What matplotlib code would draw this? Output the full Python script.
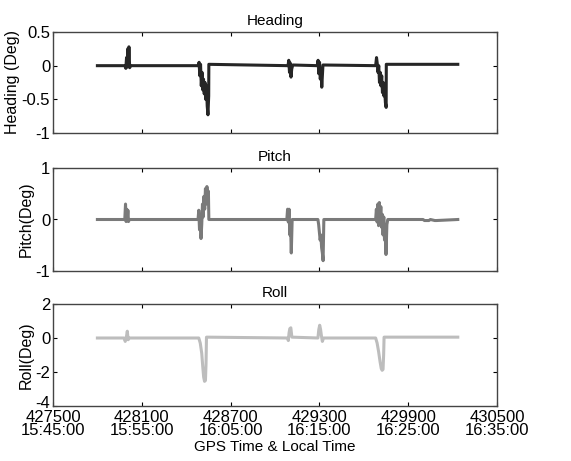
import matplotlib
matplotlib.use('Agg')
import matplotlib.pyplot as plt
import matplotlib.transforms as mtransforms
import numpy as np

plt.rcParams['font.family'] = ['Liberation Sans', 'DejaVu Sans']
plt.rcParams['font.size'] = 11

# heading (deg) vs gps time (s)
head_t = [427800, 427985, 427992, 427997, 428001, 428005, 428009, 428013, 428018, 428024,
          428480, 428487, 428492, 428497, 428502, 428507, 428512, 428517, 428522, 428527,
          428532, 428537, 428542, 428547, 428552, 428553,
          429088, 429093, 429098, 429103, 429108, 429113, 429120,
          429285, 429291, 429296, 429301, 429306, 429311, 429316, 429324,
          429680, 429686, 429691, 429696, 429701, 429706, 429711, 429716, 429721,
          429726, 429731, 429736, 429741, 429746, 429751, 429752, 430235]
head_v = [0.0, 0.0, -0.04, 0.12, -0.02, 0.25, 0.02, 0.28, -0.03, 0.0,
          0.0, 0.05, -0.15, 0.02, -0.3, -0.1, -0.36, -0.2, -0.42, -0.25,
          -0.5, -0.3, -0.6, -0.73, -0.45, 0.02,
          0.0, 0.08, -0.1, 0.04, -0.17, -0.05, 0.01,
          0.0, 0.08, -0.12, 0.05, -0.2, -0.05, -0.32, 0.01,
          0.0, 0.12, 0.03, -0.1, 0.0, -0.25, -0.1, -0.3, -0.15,
          -0.4, -0.25, -0.45, -0.35, -0.55, -0.62, 0.02, 0.02]

# pitch (deg)
pitch_t = [427800, 427985, 427990, 427994, 427998, 428002, 428006, 428010, 428016, 428024,
           428480, 428485, 428490, 428495, 428500, 428505, 428510, 428515, 428520, 428525,
           428530, 428535, 428540, 428545, 428550, 428553,
           429080, 429085, 429090, 429095, 429100, 429105, 429110, 429116,
           429290, 429295, 429300, 429305, 429310, 429315, 429320, 429325, 429330,
           429680, 429685, 429690, 429695, 429700, 429705, 429710, 429715, 429720,
           429725, 429730, 429735, 429740, 429745, 429750, 429756, 429762,
           430000, 430010, 430040, 430050, 430080, 430090, 430235]
pitch_v = [0.0, 0.0, 0.3, -0.04, 0.2, 0.02, 0.18, -0.04, 0.0, 0.0,
           0.0, 0.18, -0.2, 0.1, -0.37, -0.1, 0.3, 0.05, 0.45, 0.2,
           0.6, 0.3, 0.64, 0.4, 0.55, 0.0,
           0.0, 0.2, -0.05, 0.2, -0.3, -0.1, -0.65, 0.0,
           0.0, -0.1, -0.25, -0.4, -0.3, -0.55, -0.65, -0.8, 0.0,
           0.0, 0.2, -0.05, 0.3, -0.12, 0.33, -0.05, 0.25, -0.15,
           0.1, -0.3, 0.05, -0.4, -0.2, -0.68, -0.1, 0.0,
           0.0, -0.02, -0.02, 0.0, -0.02, -0.02, 0.0]

# roll (deg)
roll_t = [427800, 427980, 427988, 427995, 428002, 428008, 428016,
          428485, 428495, 428505, 428512, 428518, 428524, 428530, 428534, 428537,
          429085, 429090, 429095, 429100, 429107, 429114,
          429290, 429296, 429302, 429308, 429314, 429320, 429328,
          429680, 429690, 429700, 429710, 429718, 429724, 429730, 429734, 429737,
          430235]
roll_v = [0.0, 0.0, -0.2, 0.0, 0.4, -0.1, 0.0,
          0.0, -0.3, -0.9, -1.7, -2.3, -2.55, -2.5, -1.5, 0.05,
          0.0, -0.15, 0.3, 0.55, 0.6, 0.05,
          0.0, 0.5, 0.75, 0.5, 0.1, -0.2, 0.0,
          0.0, -0.3, -0.8, -1.4, -1.8, -1.9, -1.85, -1.0, 0.05,
          0.05]

xticks = [427500, 428100, 428700, 429300, 429900, 430500]
xlabels = ['427500\n15:45:00', '428100\n15:55:00', '428700\n16:05:00',
           '429300\n16:15:00', '429900\n16:25:00', '430500\n16:35:00']

fig = plt.figure(figsize=(5.71, 4.61), dpi=100)
W, H = 571.0, 461.0
boxes = [(53, 32, 133), (53, 168, 271), (53, 304, 406)]
axs = []
for (l, t, b) in boxes:
    axs.append(fig.add_axes([l / W, 1 - b / H, (497 - l) / W, (b - t) / H]))

series = [
    (head_t, head_v, '#262626', 'Heading', 'Heading (Deg)', (-1, 0.5), [-1, -0.5, 0, 0.5], ['-1', '-0.5', '0', '0.5']),
    (pitch_t, pitch_v, '#7a7a7a', 'Pitch', 'Pitch(Deg)', (-1, 1), [-1, 0, 1], ['-1', '0', '1']),
    (roll_t, roll_v, '#bdbdbd', 'Roll', 'Roll(Deg)', (-4, 2), [-4, -2, 0, 2], ['-4', '-2', '0', '2']),
]

for ax, (t, v, c, title, ylab, ylim, yt, ytl) in zip(axs, series):
    ax.plot(t, v, color=c, linewidth=2.2)
    ax.set_xlim(427500, 430500)
    ax.set_ylim(*ylim)
    ax.set_yticks(yt)
    ax.set_yticklabels(ytl)
    ax.set_xticks(xticks)
    ax.set_title(title, fontsize=11, pad=5)
    ax.set_ylabel(ylab, fontsize=11.5, labelpad=1)
    ax.tick_params(direction='in', top=True, right=True, length=3, labelsize=12, pad=2)
    for s in ax.spines.values():
        s.set_color('#444444')
        s.set_linewidth(1.0)

axs[0].set_xticklabels([])
axs[1].set_xticklabels([])
axs[2].set_xticklabels(xlabels, linespacing=0.85)
axs[2].tick_params(axis='x', pad=3)
axs[2].set_xlabel('GPS Time & Local Time', fontsize=11, labelpad=1)

# nudge the bottom "-4" up a little so it clears the first time label
lab = axs[2].get_yticklabels()[0]
lab.set_transform(lab.get_transform() + mtransforms.ScaledTranslation(0, 4 / 100, fig.dpi_scale_trans))

fig.savefig('out.png', dpi=100)
